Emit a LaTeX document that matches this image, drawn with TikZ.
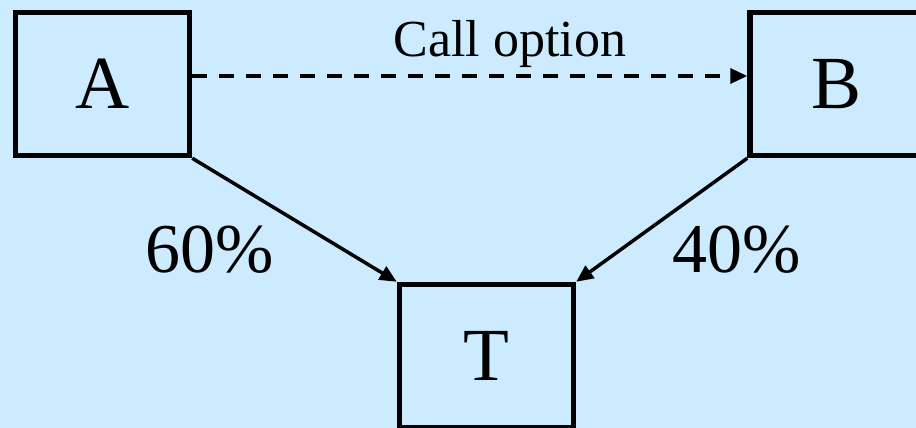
\documentclass[tikz,border=0pt]{standalone}
\usepackage{fontspec}
\setmainfont{Liberation Serif}
\usetikzlibrary{arrows.meta}
\definecolor{bgblue}{HTML}{CCEBFF}
\begin{document}
\begin{tikzpicture}[x=1pt,y=-1pt,
  box/.style={draw=black,line width=5.5pt,minimum width=174pt,minimum height=143pt,inner sep=0pt,font=\fontsize{75}{80}\selectfont},
  conn/.style={line width=3.5pt,-{Triangle[length=17pt,width=15pt]}},
  lbl/.style={font=\fontsize{70}{74}\selectfont},
  clbl/.style={font=\fontsize{52}{56}\selectfont}]
\useasboundingbox (0,0) rectangle (916,428);
\fill[bgblue] (0,0) rectangle (916,428);
\node[box] (A) at (102.5,84) {A};
\node[box] (B) at (837,84) {B};
\node[box] (T) at (486.5,356) {T};
\draw[conn,dashed,dash pattern=on 15pt off 12pt] ([yshift=8pt]A.east) -- ([yshift=8pt]B.west);
\draw[conn] (A.south east) -- (T.north west);
\draw[conn] (B.south west) -- (T.north east);
\node[clbl,anchor=base,inner sep=0pt] (c) at (510,57) {Call option};
\node[lbl] (p60) at (210,250) {60\%};
\node[lbl] (p40) at (737,250) {40\%};
\end{tikzpicture}
\end{document}
